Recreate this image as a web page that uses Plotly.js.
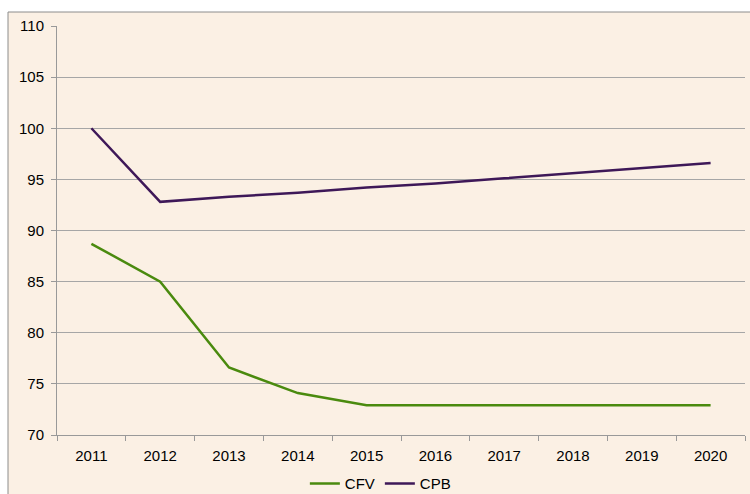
<!DOCTYPE html>
<html>
<head>
<meta charset="utf-8">
<script src="https://cdn.plot.ly/plotly-3.0.1.min.js"></script>
<style>html,body{margin:0;padding:0;background:#fff;}#chart{width:750px;height:494px;}</style>
</head>
<body>
<div id="chart"></div>
<script>
const years = ['2011','2012','2013','2014','2015','2016','2017','2018','2019','2020'];
const cfv = [88.7, 85.0, 76.6, 74.1, 72.9, 72.9, 72.9, 72.9, 72.9, 72.9];
const cpb = [100.0, 92.8, 93.3, 93.7, 94.2, 94.6, 95.1, 95.6, 96.1, 96.6];
const yTicks = [70, 75, 80, 85, 90, 95, 100, 105, 110];

const traces = [
  {x: years, y: cfv, name: 'CFV', type: 'scatter', mode: 'lines',
   line: {color: '#4A8A0E', width: 2.5}},
  {x: years, y: cpb, name: 'CPB', type: 'scatter', mode: 'lines',
   line: {color: '#3E1858', width: 2.5}}
];

const layout = {
  width: 750, height: 494,
  margin: {l: 57, r: 5, t: 26, b: 59, autoexpand: false},
  paper_bgcolor: '#FFFFFF',
  plot_bgcolor: 'rgba(0,0,0,0)',
  font: {family: 'Liberation Sans, Arial, sans-serif', size: 15, color: '#000'},
  showlegend: true,
  legend: {orientation: 'h', x: 0.47, xanchor: 'center', y: -0.079, yanchor: 'top',
           font: {size: 15}, bgcolor: 'rgba(0,0,0,0)', itemwidth: 30, traceorder: 'normal'},
  xaxis: {type: 'category', tickson: 'boundaries', ticks: 'outside', ticklen: 5,
          tickcolor: '#999', showline: true, linecolor: '#999', linewidth: 1,
          showgrid: false, zeroline: false, fixedrange: true, ticklabelstandoff: 7,
          range: [-0.5, 9.5], tickfont: {size: 15}},
  yaxis: {range: [70, 110], tickvals: yTicks, ticks: 'outside', ticklen: 5,
          tickcolor: '#999', showline: true, linecolor: '#999', linewidth: 1,
          showgrid: true, gridcolor: '#A6A6A6', gridwidth: 1, zeroline: false,
          ticklabelstandoff: 4, tickfont: {size: 15}, fixedrange: true},
  shapes: [
    {type: 'rect', xref: 'paper', yref: 'paper', x0: -0.0712, x1: 1.02, y0: -0.2, y1: 1.0342,
     fillcolor: '#FBF0E4', line: {color: '#8C8C8C', width: 1}, layer: 'below'}
  ]
};

Plotly.newPlot('chart', traces, layout, {displayModeBar: false, staticPlot: true});
</script>
</body>
</html>
